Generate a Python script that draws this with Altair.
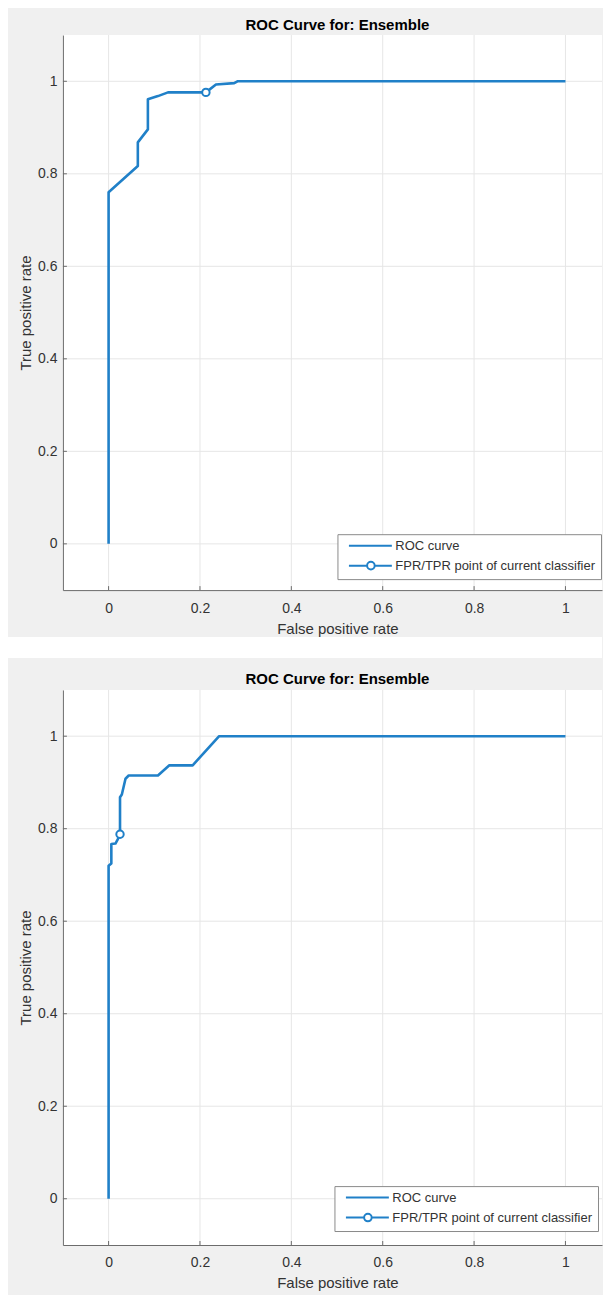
import altair as alt
import pandas as pd

# ---- data ----
X_TICKS = [0, 0.2, 0.4, 0.6, 0.8, 1]
Y_TICKS = [0, 0.2, 0.4, 0.6, 0.8, 1]

FPR_A = [0, 0, 0.064, 0.064, 0.086, 0.086, 0.108, 0.13, 0.213, 0.235, 0.275, 0.282, 1.0]
TPR_A = [0, 0.76, 0.817, 0.868, 0.896, 0.961, 0.968, 0.976, 0.976, 0.993, 0.996, 1.0, 1.0]
OP_FPR_A = [0.213]
OP_TPR_A = [0.976]

FPR_B = [0, 0, 0.006, 0.006, 0.015, 0.02, 0.025, 0.025, 0.029, 0.037, 0.044, 0.108, 0.133, 0.184, 0.242, 1.0]
TPR_B = [0, 0.72, 0.725, 0.767, 0.768, 0.777, 0.788, 0.868, 0.874, 0.908, 0.915, 0.915, 0.937, 0.937, 1.0, 1.0]
OP_FPR_B = [0.025]
OP_TPR_B = [0.788]

TITLE = "ROC Curve for: Ensemble"
LEGEND_LABELS = ["ROC curve", "FPR/TPR point of current classifier"]

# ---- styling ----
BLUE = "#2080C8"
FIG_GRAY = "#f0f0f0"
GRID = "#e6e6e6"
TXT = "#333333"
FONT = "Liberation Sans"
W, H = 540, 556

PATH_LINE = "M0,0L8.6,0"
PATH_MARK = ("M0,0L3.64,0M5.16,0L8.6,0"
             "M3.64,0A0.76,0.76,0,1,0,5.16,0A0.76,0.76,0,1,0,3.64,0")


def xenc():
    return alt.X(
        "fpr:Q",
        scale=alt.Scale(domain=[-0.1, 1.08], nice=False, zero=False),
        axis=alt.Axis(values=X_TICKS, format="~g", grid=False, ticks=False, tickSize=0,
                      labelPadding=11, titlePadding=6, zindex=1, domainColor="#6b6b6b",
                      labelColor=TXT, labelFontSize=14, labelFont=FONT,
                      titleColor=TXT, titleFontSize=15, titleFont=FONT,
                      titleFontWeight="normal", labelFlush=False, titleX=W / 2 + 5),
        title="False positive rate",
    )


def yenc():
    return alt.Y(
        "tpr:Q",
        scale=alt.Scale(domain=[-0.1, 1.1], nice=False, zero=False),
        axis=alt.Axis(values=Y_TICKS, format="~g", grid=False, ticks=False, tickSize=0,
                      labelPadding=6, titlePadding=4, zindex=1, domainColor="#6b6b6b",
                      labelColor=TXT, labelFontSize=14, labelFont=FONT,
                      titleColor=TXT, titleFontSize=15, titleFont=FONT,
                      titleFontWeight="normal", labelFlush=False),
        title="True positive rate",
    )


def panel(fpr, tpr, op_fpr, op_tpr, legend_x, legend_y, is_top):
    one = pd.DataFrame({"k": [0]})
    if is_top:
        # white gap separating the two figure panels
        frame = alt.Chart(one).mark_rect(color="white").encode(
            x=alt.value(-55), x2=alt.value(W), y=alt.value(H + 47), y2=alt.value(H + 68))
    else:
        frame = alt.Chart(one).mark_rect(color=FIG_GRAY).encode(
            x=alt.value(-55), x2=alt.value(-54), y=alt.value(0), y2=alt.value(1))
    plot_bg = alt.Chart(one).mark_rect(color="white").encode(
        x=alt.value(0), x2=alt.value(W), y=alt.value(0), y2=alt.value(H))

    xg = alt.Chart(pd.DataFrame({"fpr": X_TICKS})).mark_rule(color=GRID, strokeWidth=1).encode(x=xenc())
    yg = alt.Chart(pd.DataFrame({"tpr": Y_TICKS})).mark_rule(color=GRID, strokeWidth=1).encode(y=yenc())
    xt = alt.Chart(pd.DataFrame({"fpr": X_TICKS})).mark_rule(color="#6b6b6b", strokeWidth=1).encode(
        x=xenc(), y=alt.value(H), y2=alt.value(H - 4))
    yt = alt.Chart(pd.DataFrame({"tpr": Y_TICKS})).mark_rule(color="#6b6b6b", strokeWidth=1).encode(
        y=yenc(), x=alt.value(0), x2=alt.value(4))

    roc = pd.DataFrame({"fpr": fpr, "tpr": tpr, "i": list(range(len(fpr)))})
    line = alt.Chart(roc).mark_line(color=BLUE, strokeWidth=2.6, strokeJoin="round").encode(
        x=xenc(), y=yenc(), order=alt.Order("i:Q"))

    op = pd.DataFrame({"fpr": op_fpr, "tpr": op_tpr})
    point = alt.Chart(op).mark_point(shape="circle", filled=True, fill="white", stroke=BLUE,
                                     strokeWidth=2, size=55, opacity=1).encode(x=xenc(), y=yenc())

    leg = alt.Legend(title=None, orient="none", legendX=legend_x, legendY=legend_y,
                     fillColor="white", strokeColor="#8a8a8a", padding=5, rowPadding=4,
                     labelFont=FONT, labelFontSize=13, labelColor=TXT, labelOffset=40,
                     labelLimit=400, symbolSize=100, symbolStrokeWidth=2,
                     symbolFillColor="white", symbolOpacity=1, cornerRadius=0)
    carrier = alt.Chart(pd.DataFrame({"series": LEGEND_LABELS})).transform_filter("false").mark_point(
        filled=True, fill="white", strokeWidth=2, size=100).encode(
        stroke=alt.Stroke("series:N", scale=alt.Scale(domain=LEGEND_LABELS, range=[BLUE, BLUE]), legend=leg),
        shape=alt.Shape("series:N", scale=alt.Scale(domain=LEGEND_LABELS, range=[PATH_LINE, PATH_MARK]),
                        legend=leg),
    )

    return alt.layer(frame, plot_bg, xg, yg, xt, yt, line, point, carrier).properties(
        width=W, height=H,
        title=alt.Title(TITLE, fontSize=15, fontWeight="bold", font=FONT, color="#000000",
                        offset=2, dx=5),
    )


top = panel(FPR_A, TPR_A, OP_FPR_A, OP_TPR_A, 275, 500, True)
bottom = panel(FPR_B, TPR_B, OP_FPR_B, OP_TPR_B, 272, 497, False)

chart = alt.vconcat(top, bottom, spacing=14).resolve_scale(
    x="independent", y="independent", stroke="independent", shape="independent"
).resolve_legend(stroke="independent", shape="independent").properties(
    padding={"left": 0, "top": 8, "right": 0, "bottom": 4}, background=FIG_GRAY
).configure_view(stroke=None)

chart.save("out.html", embed_options={"renderer": "svg", "actions": False})
